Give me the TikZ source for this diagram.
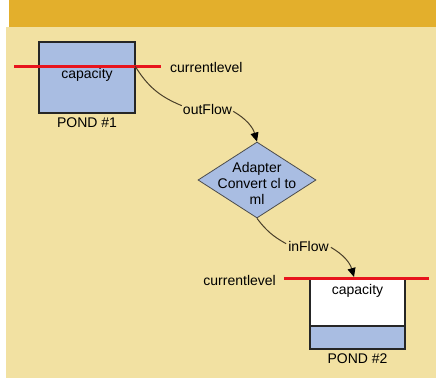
\documentclass[tikz,border=0pt]{standalone}
\usepackage{fontspec}
\setmainfont{Liberation Sans}
\usetikzlibrary{shapes.geometric,arrows.meta}
\definecolor{hdr}{HTML}{E3AF2C}
\definecolor{bg}{HTML}{F2E1A2}
\definecolor{pondblue}{HTML}{A9BDE2}
\definecolor{lvlred}{HTML}{E8141C}
\definecolor{conn}{HTML}{4A3F2A}
\tikzset{
  lbl/.style={inner sep=0pt, font=\fontsize{14}{16}\selectfont},
  pondbox/.style={draw=black!85, line width=1.2pt, inner sep=0pt},
  level/.style={draw=lvlred, line width=3pt},
  flow/.style={draw=conn, line width=1pt},
  flowarrow/.style={flow, -{Triangle[length=9pt,width=8pt,color=black]}},
}
\begin{document}
\begin{tikzpicture}[x=1pt,y=-1pt]
\useasboundingbox (0,0) rectangle (436,378);
\fill[white] (0,0) rectangle (436,378);
\fill[bg] (6,27) rectangle (436,378);
\fill[hdr] (9,0) rectangle (436,27);

% Pond 1
\node[pondbox, fill=pondblue, minimum width=96pt, minimum height=71pt] (pond1) at (87,77.5) {};
\node[lbl] (cap1) at (87,75) {capacity};
\node[lbl] (pname1) at (87,123) {POND \#1};
\coordinate (l1a) at (14,66);
\coordinate (l1b) at (161,66);
\coordinate (c1) at (135,66);
\draw[level] (l1a) -- (l1b);
\node[lbl, anchor=west] (cl1) at (170,67) {currentlevel};

% outFlow
\node[lbl] (outflow) at (207.5,109) {outFlow};

% Adapter diamond
\node[diamond, draw=black!70, line width=0.8pt, fill=pondblue, minimum width=118pt, minimum height=76pt, inner sep=0pt, aspect=1.55] (adapter) at (257,180) {};
\node[lbl, align=center] (adtext) at (257,183) {Adapter\\Convert cl to\\ml};

% inFlow
\node[lbl] (inflow) at (308.5,246) {inFlow};

% Pond 2
\node[pondbox, fill=white, minimum width=95pt, minimum height=48pt] (pond2top) at (357.5,302) {};
\node[pondbox, fill=pondblue, minimum width=95pt, minimum height=23pt] (pond2bot) at (357.5,337.5) {};
\node[lbl] (cap2) at (357.5,291) {capacity};
\node[lbl] (pname2) at (357.5,359) {POND \#2};
\coordinate (l2a) at (284,278);
\coordinate (l2b) at (429,278);
\coordinate (c2) at (354,277);
\draw[level] (l2a) -- (l2b);
\node[lbl, anchor=east] (cl2) at (276,280) {currentlevel};

% connectors
\draw[flow] (c1) to[bend right=18] ([xshift=-1pt,yshift=-2pt]outflow.north west);
\draw[flowarrow] ([xshift=1pt,yshift=3pt]outflow.south east) to[bend left=22] (adapter.north);
\draw[flow] (adapter.south) to[bend right=12] ([xshift=-2pt,yshift=-3pt]inflow.north west);
\draw[flowarrow] ([xshift=2pt,yshift=4pt]inflow.south east) to[bend left=22] (c2);
\end{tikzpicture}
\end{document}
